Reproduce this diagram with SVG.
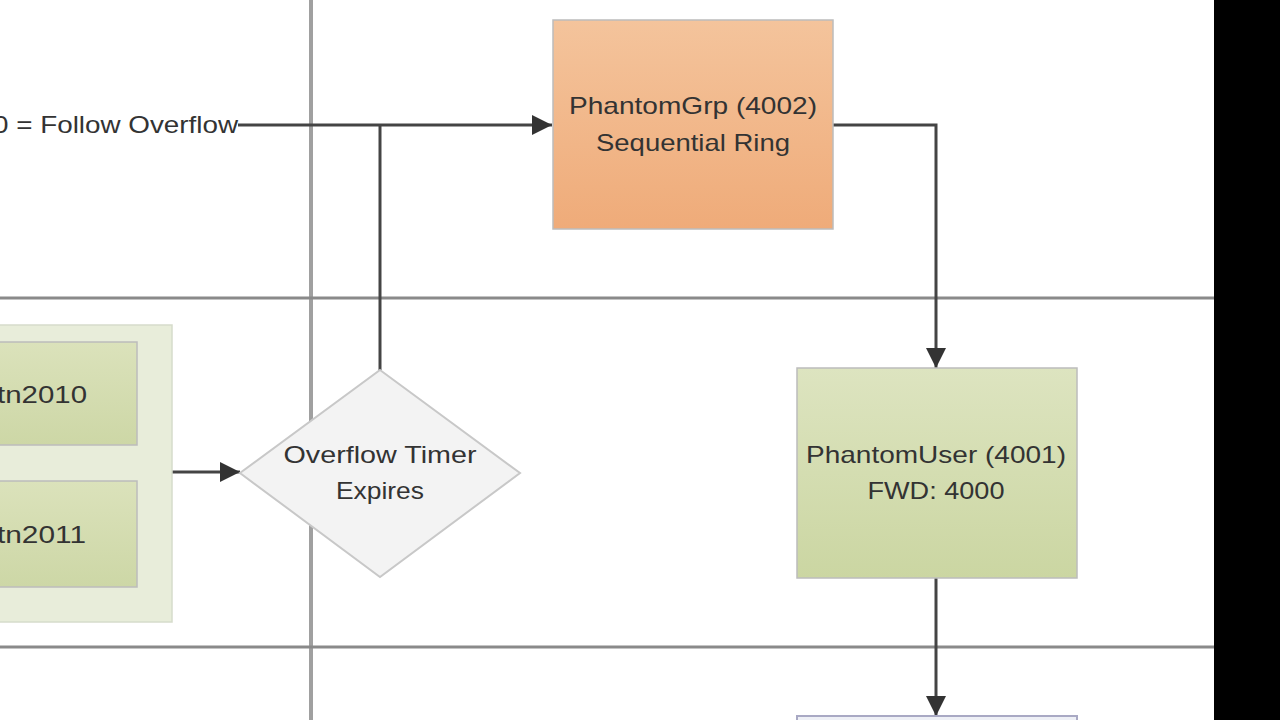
<svg xmlns="http://www.w3.org/2000/svg" width="1280" height="720" viewBox="0 0 1280 720">
<defs>
<linearGradient id="gOrange" x1="0" y1="0" x2="0" y2="1"><stop offset="0" stop-color="#f4c49c"/><stop offset="1" stop-color="#efab79"/></linearGradient>
<linearGradient id="gGreen" x1="0" y1="0" x2="0" y2="1"><stop offset="0" stop-color="#dde4c0"/><stop offset="1" stop-color="#cbd6a2"/></linearGradient>
<linearGradient id="gGreen2" x1="0" y1="0" x2="0" y2="1"><stop offset="0" stop-color="#dbe2bb"/><stop offset="1" stop-color="#cdd7a6"/></linearGradient>
<marker id="arr" markerWidth="22" markerHeight="22" refX="20" refY="11" orient="auto" markerUnits="userSpaceOnUse" viewBox="0 0 22 22">
<path d="M0,1 L20,11 L0,21 Z" fill="#333"/>
</marker>
<style>
.lane{stroke:#8a8a8a;stroke-width:3;fill:none}
.conn{stroke:#444;stroke-width:3;fill:none}
.t{font-family:"Liberation Sans",Arial,sans-serif;font-size:24px;fill:#333;text-anchor:middle}
.box{stroke:#bcbcbc;stroke-width:1.5}
</style>
</defs>
<rect width="1280" height="720" fill="#ffffff"/>
<g id="lanes">
<line x1="311" y1="0" x2="311" y2="720" stroke="#a0a0a0" stroke-width="4"/>
<line class="lane" x1="0" y1="298" x2="1214" y2="298"/>
<line class="lane" x1="0" y1="647" x2="1214" y2="647"/>
</g>
<g id="connectors">
<path class="conn" d="M238,125 L380,125"/>
<path class="conn" d="M380,125 L552,125" marker-end="url(#arr)"/>
<path class="conn" d="M380,370 L380,125"/>
<path class="conn" d="M833,125 L936,125 L936,368" marker-end="url(#arr)"/>
<path class="conn" d="M936,578 L936,716" marker-end="url(#arr)"/>
<path class="conn" d="M172,472 L240,472" marker-end="url(#arr)"/>
</g>
<g id="follow-label">
<text class="t" x="238" y="133" style="text-anchor:end" textLength="245" lengthAdjust="spacingAndGlyphs">0 = Follow Overflow</text>
</g>
<g id="phantomgrp">
<rect class="box" x="553" y="20" width="280" height="209" fill="url(#gOrange)"/>
<text class="t" x="693" y="114" textLength="248" lengthAdjust="spacingAndGlyphs">PhantomGrp (4002)</text>
<text class="t" x="693" y="151" textLength="194" lengthAdjust="spacingAndGlyphs">Sequential Ring</text>
</g>
<g id="group-container">
<rect x="-5" y="325" width="177" height="297" fill="#e8edda" stroke="#d6dccb" stroke-width="1.5"/>
</g>
<g id="tn2010">
<rect class="box" x="-5" y="342" width="142" height="103" fill="url(#gGreen2)"/>
<text class="t" x="87" y="403" style="text-anchor:end" textLength="90" lengthAdjust="spacingAndGlyphs">tn2010</text>
</g>
<g id="tn2011">
<rect class="box" x="-5" y="481" width="142" height="106" fill="url(#gGreen2)"/>
<text class="t" x="86" y="543" style="text-anchor:end" textLength="89" lengthAdjust="spacingAndGlyphs">tn2011</text>
</g>
<g id="overflow-timer">
<polygon points="380,370 520,473 380,577 240,473" fill="#f3f3f3" stroke="#c8c8c8" stroke-width="2"/>
<text class="t" x="380" y="463" textLength="193" lengthAdjust="spacingAndGlyphs">Overflow Timer</text>
<text class="t" x="380" y="499" textLength="88" lengthAdjust="spacingAndGlyphs">Expires</text>
</g>
<g id="phantomuser">
<rect class="box" x="797" y="368" width="280" height="210" fill="url(#gGreen)"/>
<text class="t" x="936" y="463" textLength="260" lengthAdjust="spacingAndGlyphs">PhantomUser (4001)</text>
<text class="t" x="936" y="499" textLength="137" lengthAdjust="spacingAndGlyphs">FWD: 4000</text>
</g>
<g id="next-box">
<rect x="797" y="716" width="280" height="20" fill="#eef0f6" stroke="#a9a9c4" stroke-width="2"/>
</g>
<rect x="1214" y="0" width="66" height="720" fill="#000000"/>
</svg>
